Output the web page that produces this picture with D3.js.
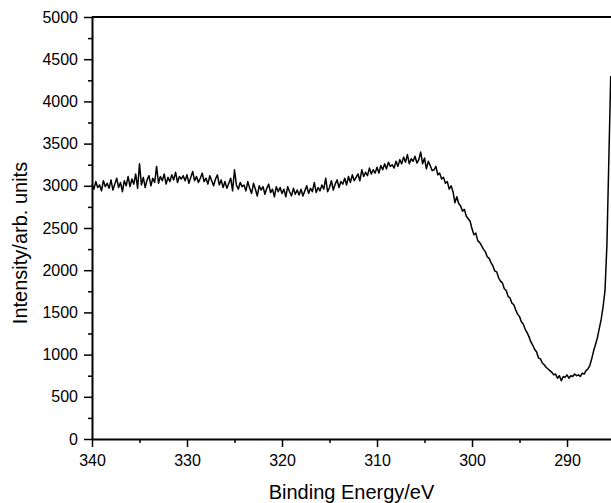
<!DOCTYPE html>
<html>
<head>
<meta charset="utf-8">
<script src="https://cdn.jsdelivr.net/npm/d3@7"></script>
<style>
  body { margin: 0; background: #fff; }
  svg text { font-family: "Liberation Sans", Arial, sans-serif; fill: #000; }
</style>
</head>
<body>
<div id="container"></div>
<script>
var width = 611;
var height = 503;
var margin = {left: 92, right: 0, top: 17, bottom: 64};

// binding energy grid (eV), one reading every 0.2 eV from 340 down to 285.4
var energyStart = 340;
var energyStep = 0.2;

var intensity = [
  3020, 2960, 3050, 2980, 3010, 2940, 3060, 2990, 3030, 2970,
  3070, 2950, 3020, 3090, 2980, 3040, 2930, 3060, 3000, 3110,
  2990, 3080, 3020, 3140, 2970, 3260, 3010, 3100, 2980, 3070,
  3120, 3000, 3090, 3040, 3230, 3030, 3110, 3060, 3140, 3020,
  3100, 3050, 3130, 3070, 3160, 3040, 3110, 3080, 3120, 3060,
  3130, 3030, 3100, 3170, 3060, 3110, 3040, 3090, 3150, 3050,
  3090, 3020, 3120, 3060, 3000, 3080, 3130, 3010, 3070, 2980,
  3050, 2970, 3030, 3090, 2940, 3190, 3010, 2960, 3040, 2990,
  3010, 2940, 3050, 2970, 2910, 3030, 2960, 2880, 3000, 2950,
  2990, 2900, 2970, 3020, 2920, 2960, 2870, 2990, 2930, 2980,
  2910, 2960, 2870, 2990, 2930, 2880, 2970, 2900, 2950, 2890,
  2960, 2880, 2940, 3000, 2910, 2970, 2930, 3040, 2920, 2980,
  2940, 3010, 2960, 3090, 2930, 2980, 3060, 2950, 3020, 3070,
  2980, 3050, 3020, 3090, 3010, 3110, 3040, 3130, 3060, 3100,
  3140, 3060, 3190, 3110, 3160, 3120, 3210, 3140, 3190, 3150,
  3220, 3150, 3240, 3190, 3260, 3200, 3280, 3230, 3250, 3210,
  3290, 3230, 3310, 3260, 3340, 3280, 3370, 3260, 3320, 3290,
  3350, 3270, 3310, 3400, 3260, 3330, 3200, 3290, 3240, 3180,
  3190, 3230, 3130, 3150, 3080, 3100, 3030, 3050, 2960, 3000,
  2930, 2800, 2870, 2790, 2760, 2700, 2720, 2640, 2610, 2580,
  2490, 2420, 2440, 2350, 2330, 2290, 2250, 2220, 2160, 2140,
  2090, 2050, 1990, 1980, 1910, 1870, 1850, 1780, 1760, 1690,
  1670, 1610, 1590, 1530, 1480, 1450, 1390, 1360, 1300, 1260,
  1210, 1150, 1110, 1060, 1030,  960,  950,  900,  880,  850,
   830,  810,  790,  760,  770,  720,  750,  690,  740,  730,
   760,  720,  750,  740,  770,  750,  760,  740,  780,  770,
   810,  830,  870,  950, 1045, 1120, 1200, 1310, 1420, 1570,
  1760, 2300, 3300, 4300
];

var xMajorTicks = [340, 330, 320, 310, 300, 290];
var xMinorTicks = [335, 325, 315, 305, 295];
var yMajorTicks = [0, 500, 1000, 1500, 2000, 2500, 3000, 3500, 4000, 4500, 5000];
var yMinorTicks = [250, 750, 1250, 1750, 2250, 2750, 3250, 3750, 4250, 4750];

var xTitle = "Binding Energy/eV";
var yTitle = "Intensity/arb. units";

var data = intensity.map(function(v, i){
    return {energy: +(energyStart - i * energyStep).toFixed(1), value: v};
});

var plotWidth = width - margin.left - margin.right;
var plotHeight = height - margin.top - margin.bottom; // 422

var svg = d3.select('#container').append('svg').attr('width', width).attr('height', height);

var xScale = d3.scaleLinear().domain([340, 285.37]).range([0, plotWidth]);
var yScale = d3.scaleLinear().domain([0, 5000]).range([plotHeight, 0]);

var chartGroup = svg.append('g').attr('transform', 'translate(' + margin.left + ',' + margin.top + ')');

// top frame line
chartGroup.append('line')
    .attr('x1', 0).attr('x2', plotWidth + 5)
    .attr('y1', 0).attr('y2', 0)
    .attr('stroke', '#000').attr('stroke-width', 2);

// minor ticks first, no labels
chartGroup.append('g')
    .attr('transform', 'translate(0,' + plotHeight + ')')
    .call(d3.axisBottom(xScale).tickValues(xMinorTicks).tickSize(4).tickFormat(''))
    .call(function(g){ g.select('.domain').remove(); })
    .selectAll('line').attr('stroke-width', 1.5);

chartGroup.append('g')
    .call(d3.axisLeft(yScale).tickValues(yMinorTicks).tickSize(4).tickFormat(''))
    .call(function(g){ g.select('.domain').remove(); })
    .selectAll('line').attr('stroke-width', 1.5);

var xAxis = chartGroup.append('g')
    .attr('transform', 'translate(0,' + plotHeight + ')')
    .call(d3.axisBottom(xScale).tickValues(xMajorTicks).tickSize(8).tickPadding(8).tickSizeOuter(0).tickFormat(d3.format('d')));
xAxis.select('.domain').attr('stroke-width', 2);
xAxis.selectAll('.tick line').attr('stroke-width', 1.5);
xAxis.selectAll('text').style('font-size', '16px').attr('fill', '#000');

var yAxis = chartGroup.append('g')
    .call(d3.axisLeft(yScale).tickValues(yMajorTicks).tickSize(8).tickPadding(6).tickSizeOuter(0).tickFormat(d3.format('d')));
yAxis.select('.domain').attr('stroke-width', 2);
yAxis.selectAll('.tick line').attr('stroke-width', 1.5);
yAxis.selectAll('text').style('font-size', '16px').attr('fill', '#000');

var line = d3.line()
    .x(function(d){ return xScale(d.energy); })
    .y(function(d){ return yScale(d.value); });

chartGroup.append('path')
    .datum(data)
    .attr('fill', 'none')
    .attr('stroke', '#000')
    .attr('stroke-width', 1.5)
    .attr('stroke-linejoin', 'round')
    .attr('d', line);

svg.append('text')
    .attr('x', margin.left + plotWidth / 2)
    .attr('y', 499)
    .attr('text-anchor', 'middle')
    .style('font-size', '20px')
    .text(xTitle);

svg.append('text')
    .attr('transform', 'translate(27,' + (margin.top + plotHeight / 2 + 15) + ') rotate(-90)')
    .attr('text-anchor', 'middle')
    .style('font-size', '20px')
    .text(yTitle);
</script>
</body>
</html>
